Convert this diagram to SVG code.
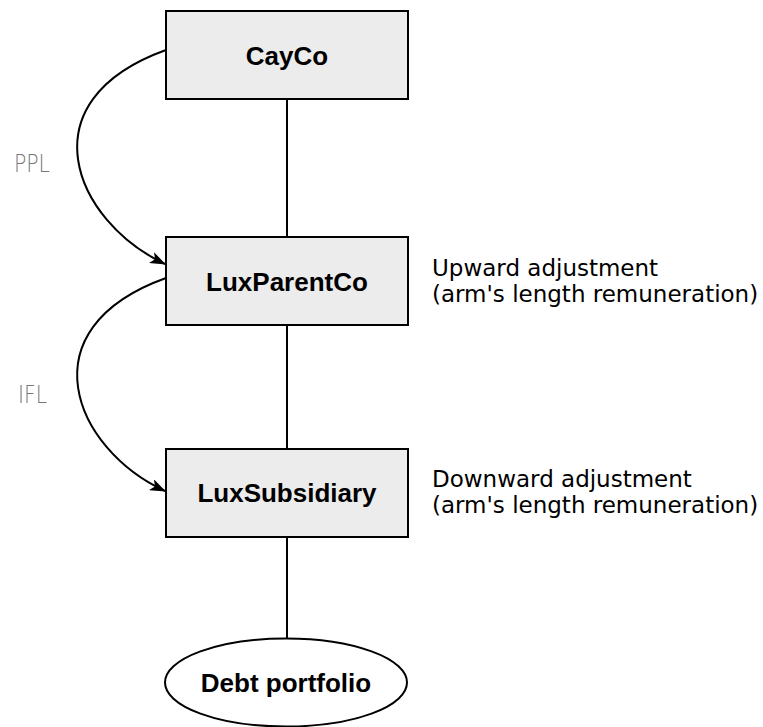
<svg xmlns="http://www.w3.org/2000/svg" width="763" height="727" viewBox="0 0 763 727">
  <style>
    .box { fill: #ececec; stroke: #000; stroke-width: 2; }
    .oval { fill: #fff; stroke: #000; stroke-width: 2; }
    .edge { fill: none; stroke: #000; stroke-width: 2; }
    .name { font-family: "Liberation Sans", Arial, sans-serif; font-weight: bold; font-size: 26px; fill: #000; text-anchor: middle; }
    .note { font-family: "DejaVu Sans", sans-serif; font-size: 23px; fill: #000; }
    .loan { font-family: "DejaVu Sans", sans-serif; font-weight: 200; font-size: 25px; fill: #777; }
  </style>
  <defs>
    <marker id="arrow" viewBox="0 0 16 12" refX="15" refY="6" markerWidth="16" markerHeight="12" markerUnits="userSpaceOnUse" orient="auto">
      <path d="M0,0 L16,6 L0,12 L4,6 z" fill="#000"/>
    </marker>
  </defs>

  <g id="connectors">
    <line class="edge" x1="287" y1="99" x2="287" y2="237"/>
    <line class="edge" x1="287" y1="325" x2="287" y2="449"/>
    <line class="edge" x1="287" y1="537" x2="287" y2="638"/>
    <path class="edge" d="M166,50 C24,101 74,221 165,264" marker-end="url(#arrow)"/>
    <path class="edge" d="M166,278 C24,329 74,449 165,491" marker-end="url(#arrow)"/>
  </g>

  <g id="cayco">
    <rect class="box" x="166" y="11" width="242" height="88"/>
    <text class="name" x="287" y="65">CayCo</text>
  </g>

  <g id="luxparentco">
    <rect class="box" x="166" y="237" width="242" height="88"/>
    <text class="name" x="287" y="291">LuxParentCo</text>
  </g>

  <g id="luxsubsidiary">
    <rect class="box" x="166" y="449" width="242" height="88"/>
    <text class="name" x="287" y="502">LuxSubsidiary</text>
  </g>

  <g id="debt-portfolio">
    <ellipse class="oval" cx="286" cy="682.5" rx="121" ry="44"/>
    <text class="name" x="286" y="692">Debt portfolio</text>
  </g>

  <g id="labels">
    <text class="loan" x="14" y="172" textLength="36" lengthAdjust="spacingAndGlyphs">PPL</text>
    <text class="loan" x="18" y="403" textLength="29" lengthAdjust="spacingAndGlyphs">IFL</text>
    <text class="note" x="432" y="276">Upward adjustment</text>
    <text class="note" x="432" y="302">(arm's length remuneration)</text>
    <text class="note" x="432" y="487">Downward adjustment</text>
    <text class="note" x="432" y="513">(arm's length remuneration)</text>
  </g>
</svg>
